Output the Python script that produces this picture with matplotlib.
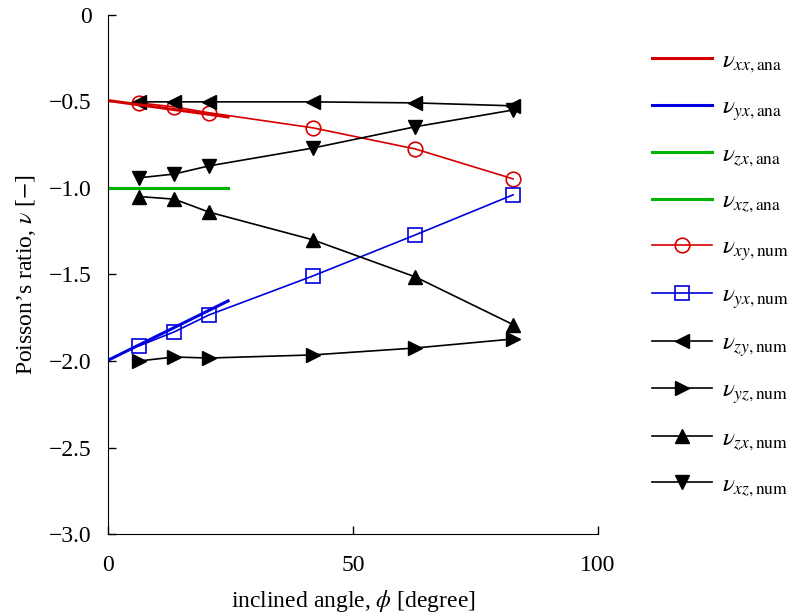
import numpy as np
import matplotlib
matplotlib.use('Agg')
import matplotlib.pyplot as plt

plt.rcParams['font.family'] = ['Liberation Serif', 'DejaVu Serif']
plt.rcParams['mathtext.fontset'] = 'stix'
plt.rcParams['font.size'] = 17

# analytical solutions (short range of small angles)
phi_ana = [0.4, 24.5]
nu_xx_ana = [-0.497, -0.59]
nu_yx_ana = [-1.99, -1.653]
nu_zx_ana = [-1.0, -1.0]
nu_xz_ana = [-1.0, -1.0]

# numerical results
phi_num = [6.3, 13.5, 20.6, 41.8, 62.7, 82.7]
nu_xy_num = [-0.509, -0.532, -0.566, -0.653, -0.775, -0.948]
nu_yx_num = [-1.913, -1.832, -1.734, -1.509, -1.272, -1.04]
nu_zy_num = [-0.503, -0.503, -0.503, -0.503, -0.509, -0.526]
nu_yz_num = [-2.0, -1.977, -1.983, -1.965, -1.925, -1.873]
nu_zx_num = [-1.05, -1.065, -1.14, -1.30, -1.514, -1.79]
nu_xz_num = [-0.942, -0.92, -0.873, -0.77, -0.647, -0.55]

red = '#d40000'
blue = '#0000e0'
green = '#00b400'

fig = plt.figure(figsize=(7.95, 6.16), dpi=100)
ax = fig.add_axes([0.136, 0.133, 0.616, 0.843])

ax.plot(phi_ana, nu_xx_ana, color=red, lw=2.2, label=r'$\nu_{xx,\mathrm{ana}}$', zorder=3)
ax.plot(phi_ana, nu_yx_ana, color=blue, lw=2.2, label=r'$\nu_{yx,\mathrm{ana}}$', zorder=3)
ax.plot(phi_ana, nu_zx_ana, color=green, lw=2.2, label=r'$\nu_{zx,\mathrm{ana}}$', zorder=3)
ax.plot(phi_ana, nu_xz_ana, color=green, lw=2.2, label=r'$\nu_{xz,\mathrm{ana}}$', zorder=3)

ax.plot(phi_num, nu_xy_num, color=red, lw=1.2, marker='o', ms=10.5, mfc='none',
        mew=1.2, label=r'$\nu_{xy,\mathrm{num}}$')
ax.plot(phi_num, nu_yx_num, color=blue, lw=1.2, marker='s', ms=9.5, mfc='none',
        mew=1.2, label=r'$\nu_{yx,\mathrm{num}}$')
ax.plot(phi_num, nu_zy_num, color='black', lw=1.2, marker='<', ms=10,
        label=r'$\nu_{zy,\mathrm{num}}$')
ax.plot(phi_num, nu_yz_num, color='black', lw=1.2, marker='>', ms=10,
        label=r'$\nu_{yz,\mathrm{num}}$')
ax.plot(phi_num, nu_zx_num, color='black', lw=1.2, marker='^', ms=10,
        label=r'$\nu_{zx,\mathrm{num}}$')
ax.plot(phi_num, nu_xz_num, color='black', lw=1.2, marker='v', ms=10,
        label=r'$\nu_{xz,\mathrm{num}}$')

ax.set_xlim(0, 100)
ax.set_ylim(-3.0, 0)
ax.set_xticks([0, 50, 100])
yt = [0, -0.5, -1.0, -1.5, -2.0, -2.5, -3.0]
ax.set_yticks(yt)
ax.set_yticklabels(['0'] + ['\u2212%.1f' % abs(v) for v in yt[1:]])
ax.tick_params(direction='in', length=6, width=1)
ax.tick_params(axis='x', pad=15)
ax.tick_params(axis='y', pad=12)
ax.spines['top'].set_visible(False)
ax.spines['right'].set_visible(False)

ax.set_xlabel(r'inclined angle, $\phi$ [degree]', labelpad=9)
ax.set_ylabel(r'Poisson’s ratio, $\nu$ [$-$]', labelpad=8)

ax.legend(loc='upper left', bbox_to_anchor=(1.09, 0.952), frameon=False,
          fontsize=18, handlelength=2.4, labelspacing=0.84, handletextpad=0.4,
          borderaxespad=0)

fig.savefig('out.png', dpi=100)
